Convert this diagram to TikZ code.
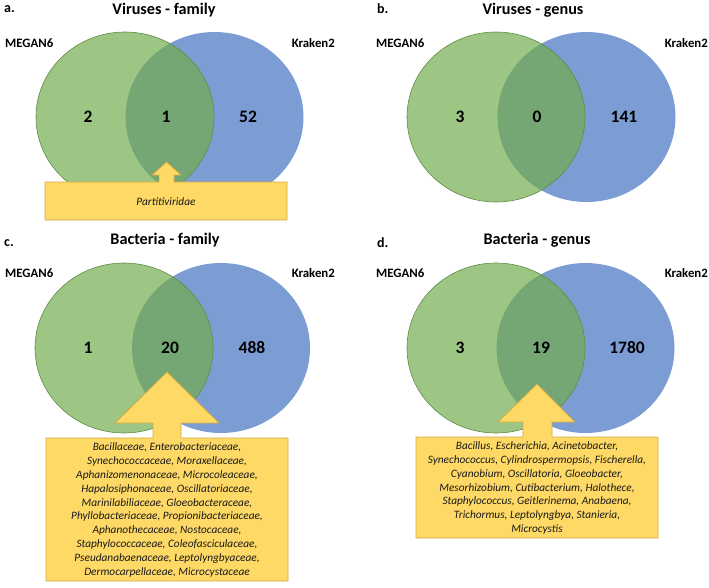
\documentclass[tikz,border=0pt]{standalone}
\usepackage{fontspec}
\setmainfont{Carlito}
\definecolor{vgreen}{HTML}{9DC583}
\definecolor{vblue}{HTML}{7B9DD4}
\definecolor{vover}{HTML}{74A774}
\definecolor{vline}{HTML}{5E8C45}
\definecolor{cyell}{HTML}{FFD966}
\definecolor{cline}{HTML}{D2AA45}
\newcommand\myvenn[3]{% green x, blue x, y
  \fill[vblue] (#2,#3) ellipse [x radius=89, y radius=85];
  \fill[vgreen] (#1,#3) ellipse [x radius=89, y radius=85];
  \begin{scope}
    \clip (#1,#3) ellipse [x radius=89, y radius=85];
    \fill[vover] (#2,#3) ellipse [x radius=89, y radius=85];
  \end{scope}
  \draw[vline, line width=0.6pt] (#1,#3) ellipse [x radius=89, y radius=85];
}
\begin{document}
\begin{tikzpicture}[x=1pt,y=-1pt,
  title/.style={font=\fontsize{16.2}{19}\selectfont\bfseries, inner sep=0pt},
  panel/.style={font=\fontsize{14}{16}\selectfont\bfseries, inner sep=0pt},
  tool/.style={font=\fontsize{12.8}{15}\selectfont\bfseries, inner sep=0pt},
  count/.style={font=\fontsize{17.5}{20}\selectfont\bfseries, inner sep=0pt},
  callout/.style={fill=cyell, draw=cline, line width=0.8pt, line join=miter},
  boxtext/.style={font=\fontsize{11.3}{13.8}\selectfont\itshape, align=center, inner sep=0pt, text=black!90},
]
\useasboundingbox (0,0) rectangle (709,587);

% ---------- panel a ----------
\myvenn{125}{214.5}{117}
\node[panel, anchor=west] (la) at (4,9) {a.};
\node[title] (ta) at (164,10) {Viruses - family};
\node[tool, anchor=west] (ma) at (5,43) {MEGAN6};
\node[tool, anchor=east] (ka) at (335,43) {Kraken2};
\node[count] (na1) at (88,117) {2};
\node[count] (na2) at (166,117) {1};
\node[count] (na3) at (248,117) {52};
\draw[callout] (45,182) -- (159,182) -- (159,175) -- (152,175) -- (166.5,162) -- (181,175) -- (174,175) -- (174,182) -- (287,182) -- (287,220) -- (45,220) -- cycle;
\node[boxtext] (ba) at (166,202) {Partitiviridae};

% ---------- panel b ----------
\myvenn{496}{586.5}{117}
\node[panel, anchor=west] (lb) at (377,9) {b.};
\node[title] (tb) at (533,10) {Viruses - genus};
\node[tool, anchor=west] (mb) at (376,43) {MEGAN6};
\node[tool, anchor=east] (kb) at (708,43) {Kraken2};
\node[count] (nb1) at (460,117) {3};
\node[count] (nb2) at (537,117) {0};
\node[count] (nb3) at (624,117) {141};

% ---------- panel c ----------
\myvenn{124}{221}{348}
\node[panel, anchor=west] (lc) at (4,243) {c.};
\node[title] (tc) at (165,240) {Bacteria - family};
\node[tool, anchor=west] (mc) at (5,273) {MEGAN6};
\node[tool, anchor=east] (kc) at (335,273) {Kraken2};
\node[count] (nc1) at (88,348) {1};
\node[count] (nc2) at (170,348) {20};
\node[count] (nc3) at (252,348) {488};
\draw[callout] (46,438) -- (153,438) -- (153,423) -- (115,423) -- (167,372) -- (219,423) -- (181,423) -- (181,438) -- (288,438) -- (288,581) -- (46,581) -- cycle;
\node[boxtext] (bc) at (167,510) {Bacillaceae, Enterobacteriaceae,\\
Synechococcaceae, Moraxellaceae,\\
Aphanizomenonaceae, Microcoleaceae,\\
Hapalosiphonaceae, Oscillatoriaceae,\\
Marinilabiliaceae, Gloeobacteraceae,\\
Phyllobacteriaceae, Propionibacteriaceae,\\
Aphanothecaceae, Nostocaceae,\\
Staphylococcaceae, Coleofasciculaceae,\\
Pseudanabaenaceae, Leptolyngbyaceae,\\
Dermocarpellaceae, Microcystaceae};

% ---------- panel d ----------
\myvenn{496}{585.5}{348}
\node[panel, anchor=west] (ld) at (377,243) {d.};
\node[title] (td) at (537,240) {Bacteria - genus};
\node[tool, anchor=west] (md) at (376,273) {MEGAN6};
\node[tool, anchor=east] (kd) at (708,273) {Kraken2};
\node[count] (nd1) at (460,348) {3};
\node[count] (nd2) at (541,348) {19};
\node[count] (nd3) at (627,348) {1780};
\draw[callout] (416,437) -- (523,437) -- (523,422) -- (498,422) -- (537,384) -- (575,422) -- (552,422) -- (552,437) -- (658,437) -- (658,538) -- (416,538) -- cycle;
\node[boxtext] (bd) at (537,488) {Bacillus, Escherichia, Acinetobacter,\\
Synechococcus, Cylindrospermopsis, Fischerella,\\
Cyanobium, Oscillatoria, Gloeobacter,\\
Mesorhizobium, Cutibacterium, Halothece,\\
Staphylococcus, Geitlerinema, Anabaena,\\
Trichormus, Leptolyngbya, Stanieria,\\
Microcystis};
\end{tikzpicture}
\end{document}
